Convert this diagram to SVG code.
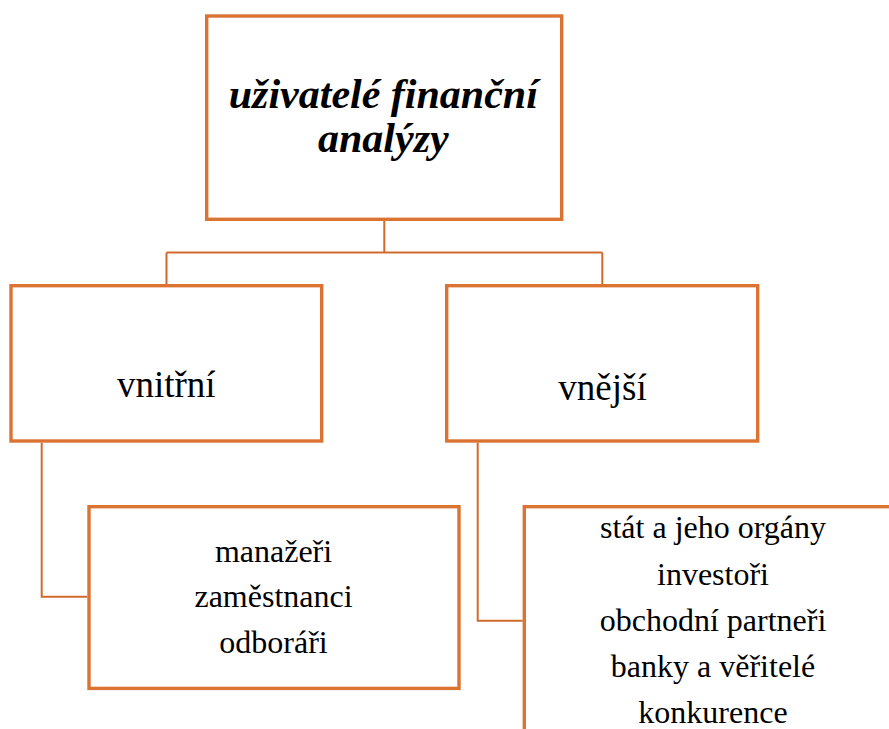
<svg xmlns="http://www.w3.org/2000/svg" width="889" height="729" viewBox="0 0 889 729">
<style>
.box{fill:#fff;stroke:#DB7432;stroke-width:3.4}
.con{fill:none;stroke:#D06B2D;stroke-width:2}
.t{font-family:"Liberation Serif","Times New Roman",serif;fill:#000;text-anchor:middle}
.top{font-size:42px;font-weight:bold;font-style:italic}
.mid{font-size:37px}
.low{font-size:32px}
</style>
<rect width="889" height="729" fill="#fff"/>
<g id="connectors">
<path class="con" d="M384.3 221 V252.5 M166.5 252.5 H602.3 M166.5 252.5 V284 M602.3 252.5 V284"/>
<path class="con" d="M41.7 442.7 V596.7 H87.3"/>
<path class="con" d="M477.7 442.7 V620.7 H522.7"/>
</g>
<g id="root">
<rect class="box" x="206.7" y="16" width="355" height="203.3"/>
<text class="t top" x="383.3" y="108.3">uživatelé finanční</text>
<text class="t top" x="383.3" y="151.7">analýzy</text>
</g>
<g id="vnitrni">
<rect class="box" x="11" y="285.7" width="310.7" height="155.3"/>
<text class="t mid" x="166.3" y="396.7">vnitřní</text>
</g>
<g id="vnejsi">
<rect class="box" x="446.7" y="285.7" width="311" height="155.3"/>
<text class="t mid" x="602.5" y="400">vnější</text>
</g>
<g id="vnitrni-list">
<rect class="box" x="89" y="506.7" width="370" height="181.7"/>
<text class="t low" x="273.5" y="561.7">manažeři</text>
<text class="t low" x="273.5" y="607.3">zaměstnanci</text>
<text class="t low" x="273.5" y="652.7">odboráři</text>
</g>
<g id="vnejsi-list">
<rect class="box" x="524.3" y="506.7" width="377.4" height="260"/>
<text class="t low" x="713" y="538.3">stát a jeho orgány</text>
<text class="t low" x="713" y="585">investoři</text>
<text class="t low" x="713" y="631">obchodní partneři</text>
<text class="t low" x="713" y="676.7">banky a věřitelé</text>
<text class="t low" x="713" y="722.7">konkurence</text>
</g>
</svg>
